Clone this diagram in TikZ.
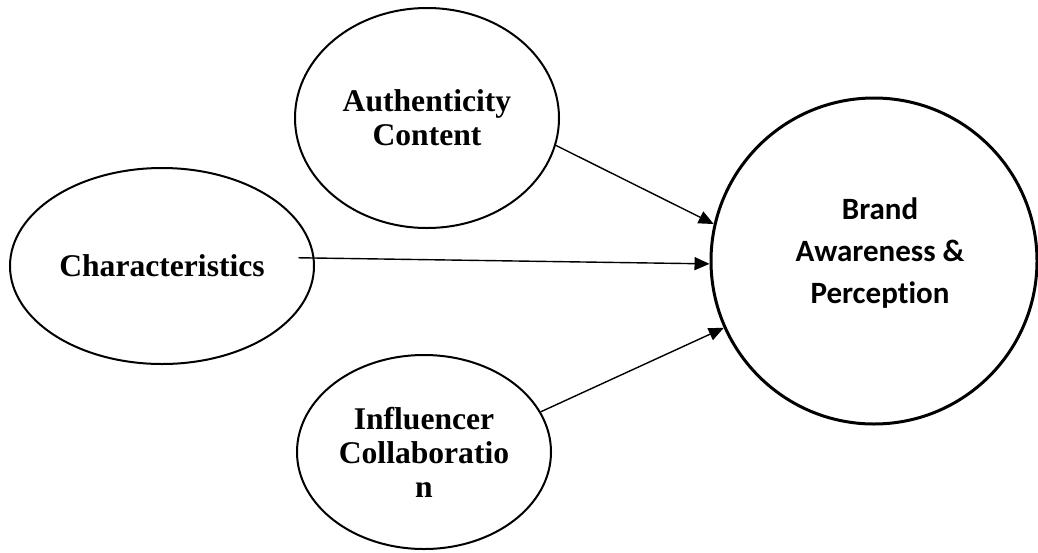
\documentclass[tikz,border=0pt]{standalone}
\usepackage{fontspec}
\setmainfont{Liberation Serif}
\newfontfamily\brandfont[Ligatures=NoCommon]{Carlito}
\usetikzlibrary{shapes.geometric, arrows.meta}
\tikzset{
  factor/.style={ellipse, draw, line width=1pt, inner sep=0pt, align=center,
    font=\fontsize{15.8}{17}\selectfont\bfseries},
  outcome/.style={circle, draw, line width=1.5pt, inner sep=0pt},
  outcometext/.style={align=center, inner sep=0pt,
    font=\brandfont\fontsize{15.5}{21}\selectfont\bfseries},
  arrow/.style={-{Triangle[length=7.5pt, width=6.5pt]}, line width=0.7pt},
}

\begin{document}
\begin{tikzpicture}[x=0.5pt, y=-0.5pt]
    \useasboundingbox (0,0) rectangle (1038,552);
    \node[factor, minimum width=132pt, minimum height=110pt] (auth) at (427,118) {Authenticity\\Content};
    \node[factor, minimum width=152pt, minimum height=98pt] (char) at (162,266) {Characteristics};
    \node[factor, minimum width=127pt, minimum height=97pt] (infl) at (424,452) {Influencer\\Collaboratio\\n};
    \node[outcome, minimum size=163pt,
      label={[outcometext, xshift=3pt, yshift=4pt]center:{Brand\\Awareness \&\\Perception}}] (brand) at (874,261) {};
    \draw[arrow] (auth.-12) -- (brand.167);
    \draw[arrow, shorten <=-8pt] (char.3) -- (brand.181);
    \draw[arrow] (infl.19) -- (brand.-156);
  \end{tikzpicture}
\end{document}
